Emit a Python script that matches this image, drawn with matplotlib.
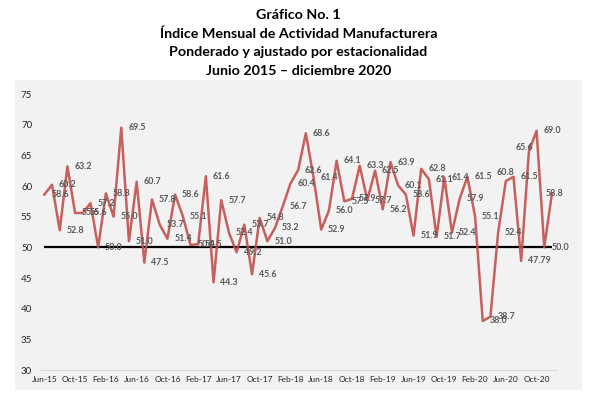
import matplotlib
matplotlib.use("Agg")
import matplotlib.pyplot as plt
from matplotlib.patches import Rectangle
import numpy as np

# ---------------------------------------------------------------------------
# Data: IMAM, Jun-2015 .. Dec-2020 (one value per month)
# ---------------------------------------------------------------------------
MONTHS = ["Jun-15", "Jul-15", "Aug-15", "Sep-15", "Oct-15", "Nov-15", "Dec-15",
          "Jan-16", "Feb-16", "Mar-16", "Apr-16", "May-16", "Jun-16", "Jul-16",
          "Aug-16", "Sep-16", "Oct-16", "Nov-16", "Dec-16", "Jan-17", "Feb-17",
          "Mar-17", "Apr-17", "May-17", "Jun-17", "Jul-17", "Aug-17", "Sep-17",
          "Oct-17", "Nov-17", "Dec-17", "Jan-18", "Feb-18", "Mar-18", "Apr-18",
          "May-18", "Jun-18", "Jul-18", "Aug-18", "Sep-18", "Oct-18", "Nov-18",
          "Dec-18", "Jan-19", "Feb-19", "Mar-19", "Apr-19", "May-19", "Jun-19",
          "Jul-19", "Aug-19", "Sep-19", "Oct-19", "Nov-19", "Dec-19", "Jan-20",
          "Feb-20", "Mar-20", "Apr-20", "May-20", "Jun-20", "Jul-20", "Aug-20",
          "Sep-20", "Oct-20", "Nov-20", "Dec-20"]

VALUES = [58.6, 60.2, 52.8, 63.2, 55.6, 55.6, 57.2, 50.0, 58.8, 55.0,
          69.5, 51.0, 60.7, 47.5, 57.8, 53.7, 51.4, 58.6, 55.1, 50.4,
          50.5, 61.6, 44.3, 57.7, 52.4, 49.2, 53.7, 45.6, 54.8, 51.0,
          53.2, 56.7, 60.4, 62.6, 68.6, 61.4, 52.9, 56.0, 64.1, 57.5,
          57.9, 63.3, 57.7, 62.5, 56.2, 63.9, 60.1, 58.6, 51.9, 62.8,
          61.1, 51.7, 61.4, 52.4, 57.9, 61.5, 55.1, 38.0, 38.7, 52.4,
          60.8, 61.5, 47.79, 65.6, 69.0, 50.0, 58.8]

LABELS = [f"{v:.2f}" if v == 47.79 else f"{v:.1f}" for v in VALUES]

THRESHOLD = 50
Y_TICKS = [30, 35, 40, 45, 50, 55, 60, 65, 70, 75]
TICK_EVERY = 4

TITLE_LINES = ["Gráfico No. 1",
               "Índice Mensual de Actividad Manufacturera",
               "Ponderado y ajustado por estacionalidad",
               "Junio 2015 – diciembre 2020"]

RED = "#C0504D"
LABEL_COL = "#595959"
BG = "#F2F2F2"

plt.rcParams["font.family"] = ["Lato", "DejaVu Sans"]

# label placement tweaks (offset points, ha) for a few crowded labels
LABEL_TWEAKS = {60: ((0, 6), "center"),
                63: ((-3, 3), "center"),
                66: ((2, 0), "center")}

# ---------------------------------------------------------------------------
fig = plt.figure(figsize=(5.97, 3.99), dpi=100)
fig.patches.append(Rectangle((15 / 597, 9 / 399), 567 / 597, 310 / 399,
                             transform=fig.transFigure, facecolor=BG,
                             edgecolor="none", zorder=-10))

title_y = [15, 34, 52, 71]
for line, ypx in zip(TITLE_LINES, title_y):
    fig.text(0.5, 1 - ypx / 399, line, ha="center", va="center",
             fontsize=10.3, fontweight="bold", color="black")

ax = fig.add_axes([40.5 / 597, 29 / 399, 515.3 / 597, 276 / 399])
ax.set_facecolor("none")
ax.set_zorder(5)

x = np.arange(len(VALUES))
ax.plot(x, VALUES, color=RED, linewidth=1.8, zorder=3, alpha=0.9)
ax.hlines(THRESHOLD, x[0], x[-1], color="black", linewidth=1.6, zorder=2)

for i, (v, lab) in enumerate(zip(VALUES, LABELS)):
    off, ha = LABEL_TWEAKS.get(i, ((5, 0), "left"))
    ax.annotate(lab, xy=(i, v), xytext=off, textcoords="offset points",
                ha=ha, va="center", fontsize=6.4, fontweight="bold",
                color=LABEL_COL, zorder=4)

ax.set_xlim(-0.5, len(VALUES) - 0.5)
ax.set_ylim(30, 75)
ax.set_yticks(Y_TICKS)
ax.set_xticks(x[::TICK_EVERY])
ax.set_xticklabels(MONTHS[::TICK_EVERY])
ax.tick_params(axis="y", length=0, pad=6, labelsize=7, labelcolor="#262626")
ax.tick_params(axis="x", length=0, pad=4, labelsize=6, labelcolor="#262626")

for side in ["top", "right", "left"]:
    ax.spines[side].set_visible(False)
ax.spines["bottom"].set_color("#D9D9D9")
ax.spines["bottom"].set_linewidth(0.8)

plt.savefig("out.png", dpi=100, facecolor="white")
